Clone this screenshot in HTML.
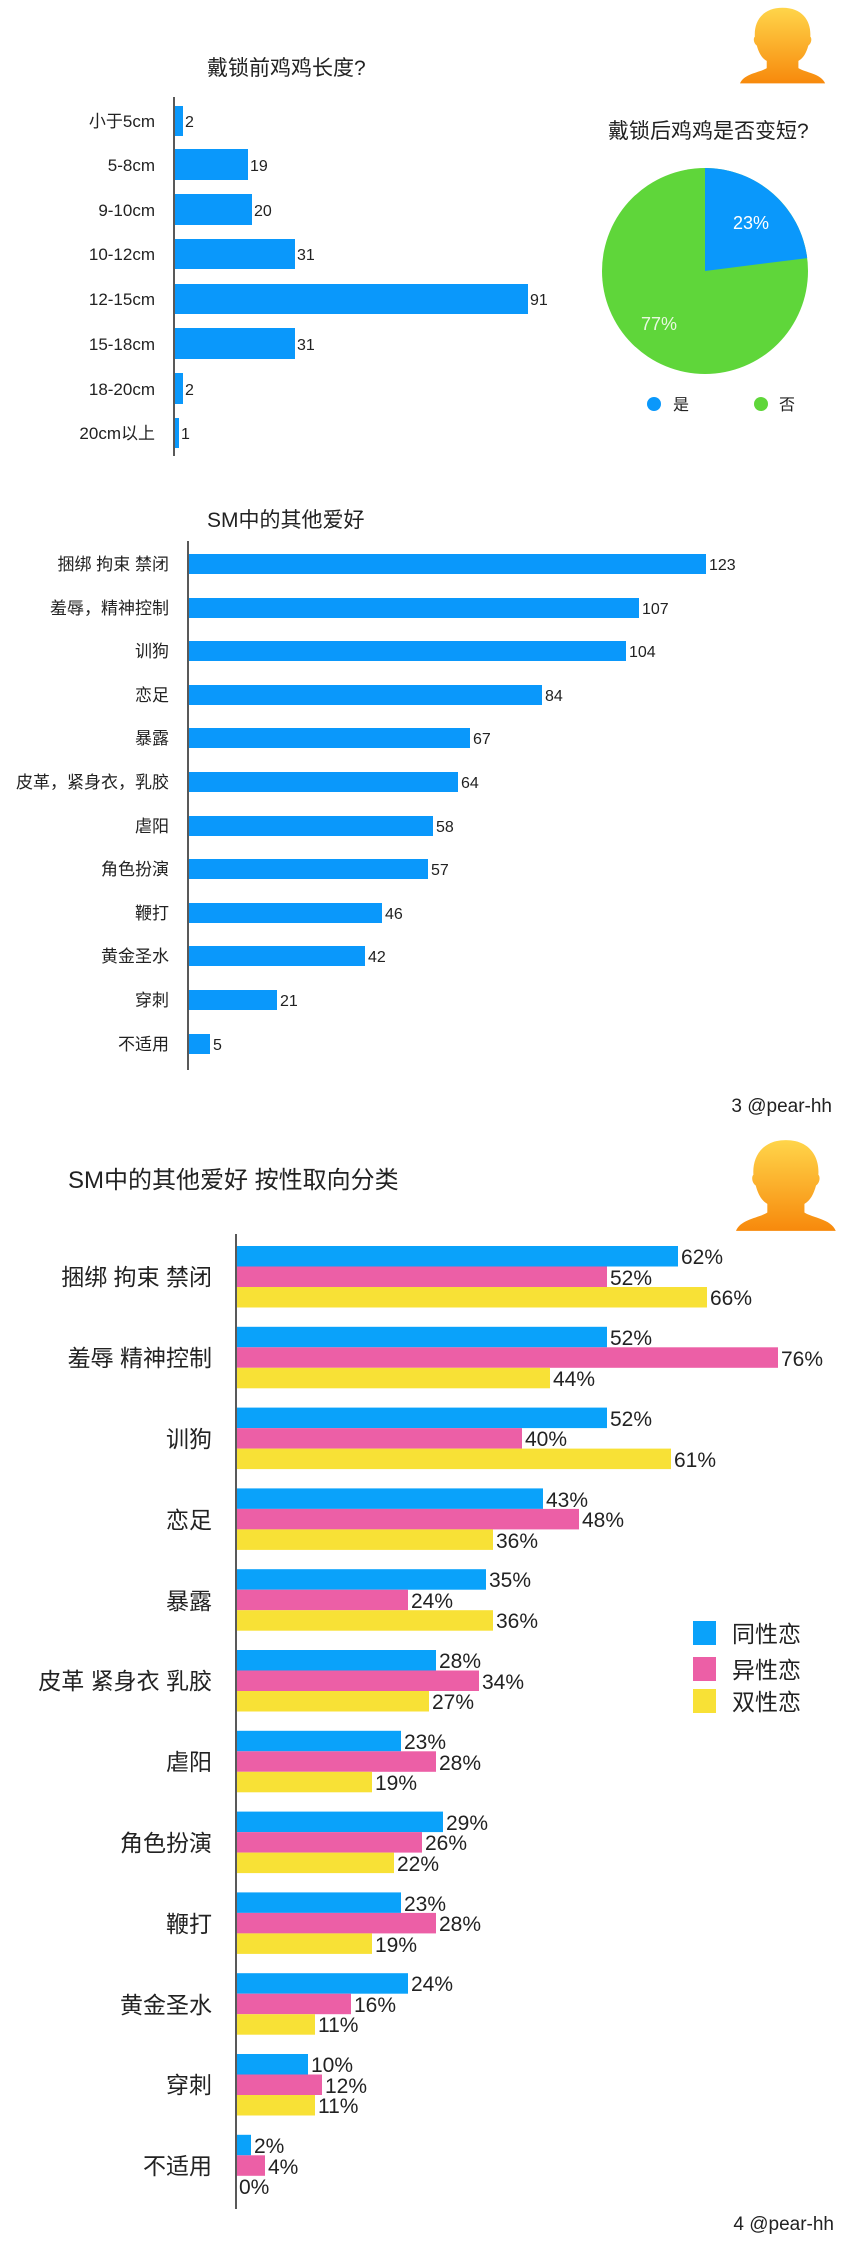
<!DOCTYPE html>
<html><head><meta charset="utf-8"><style>
body{margin:0;background:#fff}
svg text{font-family:"Liberation Sans","Noto Sans CJK SC",sans-serif;fill:#222}
</style></head><body>
<svg width="843" height="2243" viewBox="0 0 843 2243" xmlns="http://www.w3.org/2000/svg">
<defs>
<linearGradient id="av" x1="0" y1="0" x2="0" y2="1"><stop offset="0" stop-color="#ffd54a"/><stop offset="1" stop-color="#f7890c"/></linearGradient>
<g id="avatar">
<path d="M43 2 C22 2 14 18 15 34 C13 36 14 42 17 44 C19 52 22 58 27 61 L27 69 C20 74 4 75 0 86 L86 86 C82 75 66 74 59 69 L59 61 C64 58 67 52 69 44 C72 42 73 36 71 34 C72 18 64 2 43 2 Z" fill="url(#av)"/>
</g>
</defs>

<use href="#avatar" transform="translate(740,6) scale(0.99,0.9)"/>

<!-- Chart 1 -->
<text x="207" y="75" font-size="21">戴锁前鸡鸡长度?</text>
<line x1="174" y1="97" x2="174" y2="456" stroke="#222" stroke-width="1.5"/>
<g fill="#0a98fb">
<rect x="175" y="106" width="8" height="30"/>
<rect x="175" y="149" width="73" height="31"/>
<rect x="175" y="194" width="77" height="31"/>
<rect x="175" y="239" width="120" height="30"/>
<rect x="175" y="284" width="353" height="30"/>
<rect x="175" y="328" width="120" height="31"/>
<rect x="175" y="373" width="8" height="31"/>
<rect x="175" y="418" width="4" height="30"/>
</g>
<g font-size="17" text-anchor="end">
<text x="155" y="127">小于5cm</text>
<text x="155" y="171">5-8cm</text>
<text x="155" y="216">9-10cm</text>
<text x="155" y="260">10-12cm</text>
<text x="155" y="305">12-15cm</text>
<text x="155" y="350">15-18cm</text>
<text x="155" y="395">18-20cm</text>
<text x="155" y="439">20cm以上</text>
</g>
<g font-size="16">
<text x="185" y="127">2</text>
<text x="250" y="171">19</text>
<text x="254" y="216">20</text>
<text x="297" y="260">31</text>
<text x="530" y="305">91</text>
<text x="297" y="350">31</text>
<text x="185" y="395">2</text>
<text x="181" y="439">1</text>
</g>

<!-- Pie -->
<text x="608" y="138" font-size="21">戴锁后鸡鸡是否变短?</text>
<circle cx="705" cy="271" r="103" fill="#5fd63a"/>
<path d="M705 271 L705 168 A103 103 0 0 1 807.2 258.1 Z" fill="#0a98fb"/>
<text x="751" y="229" font-size="18" text-anchor="middle" style="fill:#fff">23%</text>
<text x="659" y="330" font-size="18" text-anchor="middle" style="fill:#e8f8e0">77%</text>
<circle cx="654" cy="404" r="7" fill="#0a98fb"/>
<text x="673" y="410" font-size="16">是</text>
<circle cx="761" cy="404" r="7" fill="#5fd63a"/>
<text x="779" y="410" font-size="16">否</text>

<!-- Chart 2 -->
<text x="207" y="527" font-size="21">SM中的其他爱好</text>
<line x1="188" y1="541" x2="188" y2="1070" stroke="#222" stroke-width="1.5"/>
<g fill="#0a98fb">
<rect x="189" y="554" width="517" height="20"/>
<rect x="189" y="598" width="450" height="20"/>
<rect x="189" y="641" width="437" height="20"/>
<rect x="189" y="685" width="353" height="20"/>
<rect x="189" y="728" width="281" height="20"/>
<rect x="189" y="772" width="269" height="20"/>
<rect x="189" y="816" width="244" height="20"/>
<rect x="189" y="859" width="239" height="20"/>
<rect x="189" y="903" width="193" height="20"/>
<rect x="189" y="946" width="176" height="20"/>
<rect x="189" y="990" width="88" height="20"/>
<rect x="189" y="1034" width="21" height="20"/>
</g>
<g font-size="17" text-anchor="end">
<text x="169" y="570">捆绑 拘束 禁闭</text>
<text x="169" y="614">羞辱，精神控制</text>
<text x="169" y="657">训狗</text>
<text x="169" y="701">恋足</text>
<text x="169" y="744">暴露</text>
<text x="169" y="788">皮革，紧身衣，乳胶</text>
<text x="169" y="832">虐阳</text>
<text x="169" y="875">角色扮演</text>
<text x="169" y="919">鞭打</text>
<text x="169" y="962">黄金圣水</text>
<text x="169" y="1006">穿刺</text>
<text x="169" y="1050">不适用</text>
</g>
<g font-size="16">
<text x="709" y="570">123</text>
<text x="642" y="614">107</text>
<text x="629" y="657">104</text>
<text x="545" y="701">84</text>
<text x="473" y="744">67</text>
<text x="461" y="788">64</text>
<text x="436" y="832">58</text>
<text x="431" y="875">57</text>
<text x="385" y="919">46</text>
<text x="368" y="962">42</text>
<text x="280" y="1006">21</text>
<text x="213" y="1050">5</text>
</g>
<text x="832" y="1112" font-size="19" text-anchor="end">3 @pear-hh</text>

<use href="#avatar" transform="translate(736,1138) scale(1.16,1.08)"/>

<!-- Chart 3 -->
<text x="68" y="1188" font-size="24">SM中的其他爱好 按性取向分类</text>
<line x1="236" y1="1234" x2="236" y2="2209" stroke="#222" stroke-width="1.5"/>
<g font-size="23" text-anchor="end">
<text x="212" y="1285">捆绑 拘束 禁闭</text>
<text x="212" y="1366">羞辱 精神控制</text>
<text x="212" y="1447">训狗</text>
<text x="212" y="1528">恋足</text>
<text x="212" y="1609">暴露</text>
<text x="212" y="1689">皮革 紧身衣 乳胶</text>
<text x="212" y="1770">虐阳</text>
<text x="212" y="1851">角色扮演</text>
<text x="212" y="1932">鞭打</text>
<text x="212" y="2013">黄金圣水</text>
<text x="212" y="2093">穿刺</text>
<text x="212" y="2174">不适用</text>
</g>
<g>
<rect x="237" y="1246" width="441" height="20.5" fill="#0aa2fa"/><rect x="237" y="1266.5" width="370" height="20.5" fill="#ec5fa6"/><rect x="237" y="1287" width="470" height="20.5" fill="#f8e136"/>
<rect x="237" y="1326.8" width="370" height="20.5" fill="#0aa2fa"/><rect x="237" y="1347.3" width="541" height="20.5" fill="#ec5fa6"/><rect x="237" y="1367.8" width="313" height="20.5" fill="#f8e136"/>
<rect x="237" y="1407.6" width="370" height="20.5" fill="#0aa2fa"/><rect x="237" y="1428.1" width="285" height="20.5" fill="#ec5fa6"/><rect x="237" y="1448.6" width="434" height="20.5" fill="#f8e136"/>
<rect x="237" y="1488.4" width="306" height="20.5" fill="#0aa2fa"/><rect x="237" y="1508.9" width="342" height="20.5" fill="#ec5fa6"/><rect x="237" y="1529.4" width="256" height="20.5" fill="#f8e136"/>
<rect x="237" y="1569.2" width="249" height="20.5" fill="#0aa2fa"/><rect x="237" y="1589.7" width="171" height="20.5" fill="#ec5fa6"/><rect x="237" y="1610.2" width="256" height="20.5" fill="#f8e136"/>
<rect x="237" y="1650" width="199" height="20.5" fill="#0aa2fa"/><rect x="237" y="1670.5" width="242" height="20.5" fill="#ec5fa6"/><rect x="237" y="1691" width="192" height="20.5" fill="#f8e136"/>
<rect x="237" y="1730.8" width="164" height="20.5" fill="#0aa2fa"/><rect x="237" y="1751.3" width="199" height="20.5" fill="#ec5fa6"/><rect x="237" y="1771.8" width="135" height="20.5" fill="#f8e136"/>
<rect x="237" y="1811.6" width="206" height="20.5" fill="#0aa2fa"/><rect x="237" y="1832.1" width="185" height="20.5" fill="#ec5fa6"/><rect x="237" y="1852.6" width="157" height="20.5" fill="#f8e136"/>
<rect x="237" y="1892.4" width="164" height="20.5" fill="#0aa2fa"/><rect x="237" y="1912.9" width="199" height="20.5" fill="#ec5fa6"/><rect x="237" y="1933.4" width="135" height="20.5" fill="#f8e136"/>
<rect x="237" y="1973.2" width="171" height="20.5" fill="#0aa2fa"/><rect x="237" y="1993.7" width="114" height="20.5" fill="#ec5fa6"/><rect x="237" y="2014.2" width="78" height="20.5" fill="#f8e136"/>
<rect x="237" y="2054" width="71" height="20.5" fill="#0aa2fa"/><rect x="237" y="2074.5" width="85" height="20.5" fill="#ec5fa6"/><rect x="237" y="2095" width="78" height="20.5" fill="#f8e136"/>
<rect x="237" y="2134.8" width="14" height="20.5" fill="#0aa2fa"/><rect x="237" y="2155.3" width="28" height="20.5" fill="#ec5fa6"/>
</g>
<g font-size="21">
<text x="681" y="1264">62%</text><text x="610" y="1285">52%</text><text x="710" y="1305">66%</text>
<text x="610" y="1345">52%</text><text x="781" y="1366">76%</text><text x="553" y="1386">44%</text>
<text x="610" y="1426">52%</text><text x="525" y="1446">40%</text><text x="674" y="1467">61%</text>
<text x="546" y="1507">43%</text><text x="582" y="1527">48%</text><text x="496" y="1548">36%</text>
<text x="489" y="1587">35%</text><text x="411" y="1608">24%</text><text x="496" y="1628">36%</text>
<text x="439" y="1668">28%</text><text x="482" y="1689">34%</text><text x="432" y="1709">27%</text>
<text x="404" y="1749">23%</text><text x="439" y="1770">28%</text><text x="375" y="1790">19%</text>
<text x="446" y="1830">29%</text><text x="425" y="1850">26%</text><text x="397" y="1871">22%</text>
<text x="404" y="1911">23%</text><text x="439" y="1931">28%</text><text x="375" y="1952">19%</text>
<text x="411" y="1991">24%</text><text x="354" y="2012">16%</text><text x="318" y="2032">11%</text>
<text x="311" y="2072">10%</text><text x="325" y="2093">12%</text><text x="318" y="2113">11%</text>
<text x="254" y="2153">2%</text><text x="268" y="2174">4%</text><text x="239" y="2194">0%</text>
</g>
<rect x="693" y="1621" width="23" height="24" fill="#0aa2fa"/>
<rect x="693" y="1657" width="23" height="24" fill="#ec5fa6"/>
<rect x="693" y="1689" width="23" height="24" fill="#f8e136"/>
<g font-size="23">
<text x="732" y="1642">同性恋</text>
<text x="732" y="1678">异性恋</text>
<text x="732" y="1710">双性恋</text>
</g>
<text x="834" y="2230" font-size="19" text-anchor="end">4 @pear-hh</text>
</svg>
</body></html>
